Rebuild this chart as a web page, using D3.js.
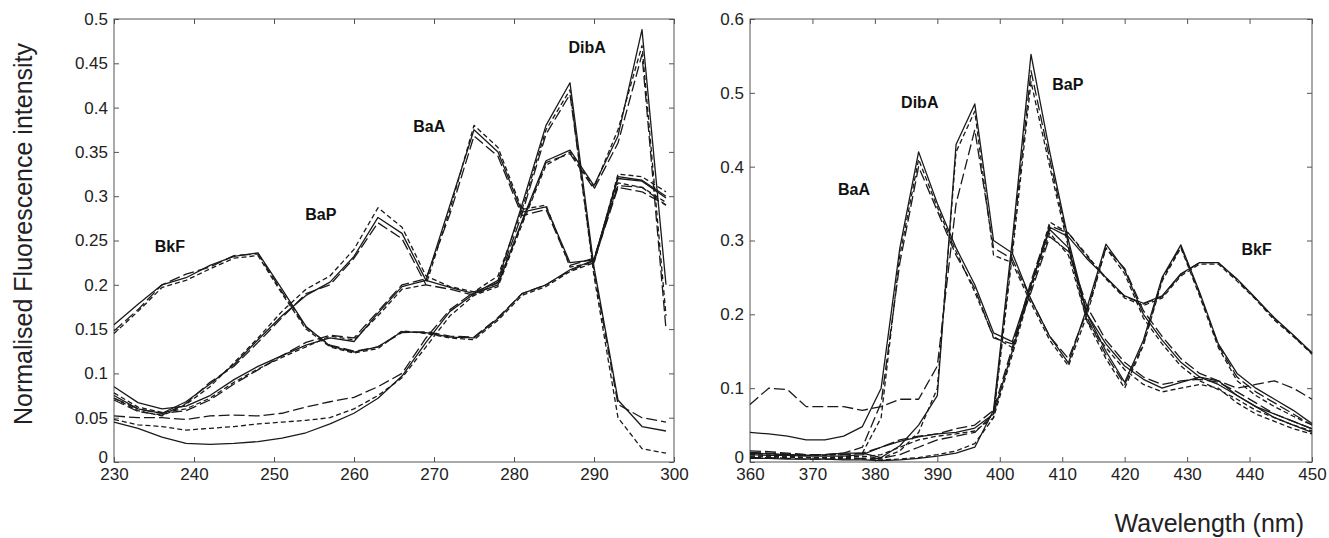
<!DOCTYPE html>
<html>
<head>
<meta charset="UTF-8">
<title>Normalised fluorescence spectra</title>
<style>
  body { margin: 0; background: #fff; }
  svg { display: block; font-family: "Liberation Sans", Arial, Helvetica, sans-serif; }
  .tick text { font-size: 17px; fill: #222; }
  .tick line { stroke: #555; }
  .frame { fill: none; stroke: #555; stroke-width: 1; }
  .spec { fill: none; stroke: #1a1a1a; stroke-width: 1.3; stroke-linejoin: round; }
  .tag { font-size: 16px; font-weight: bold; fill: #111; }
</style>
</head>
<body>
<div id="chart"></div>
<script src="https://cdnjs.cloudflare.com/ajax/libs/d3/7.8.5/d3.min.js"></script>
<script>
// excitation side (left), 3 nm steps
const exWl = [230,233,236,239,242,245,248,251,254,257,260,263,266,269,272,275,278,281,284,287,290,293,296,299];
const exBkF1 = [0.155,0.178,0.2,0.208,0.222,0.232,0.236,0.195,0.153,0.131,0.124,0.13,0.147,0.146,0.141,0.14,0.162,0.19,0.2,0.217,0.228,0.322,0.318,0.3];
const exBkF2 = [0.145,0.17,0.197,0.205,0.218,0.23,0.233,0.19,0.15,0.13,0.123,0.128,0.148,0.145,0.14,0.138,0.16,0.188,0.198,0.215,0.225,0.315,0.31,0.293];
const exBkF3 = [0.148,0.172,0.2,0.212,0.22,0.233,0.235,0.192,0.152,0.132,0.125,0.13,0.146,0.147,0.142,0.141,0.163,0.19,0.2,0.216,0.227,0.31,0.305,0.29];
const exBaP1 = [0.075,0.06,0.055,0.068,0.088,0.11,0.138,0.165,0.188,0.203,0.232,0.276,0.258,0.205,0.197,0.19,0.205,0.29,0.38,0.428,0.22,0.07,0.04,0.035];
const exBaP2 = [0.072,0.058,0.052,0.065,0.085,0.112,0.14,0.17,0.195,0.21,0.24,0.287,0.265,0.21,0.198,0.192,0.21,0.285,0.375,0.42,0.21,0.05,0.015,0.01];
const exBaP3 = [0.07,0.057,0.053,0.066,0.09,0.108,0.135,0.163,0.19,0.2,0.23,0.27,0.252,0.2,0.195,0.188,0.203,0.28,0.37,0.415,0.215,0.065,0.05,0.045];
const exBaA1 = [0.085,0.067,0.06,0.063,0.075,0.093,0.108,0.12,0.132,0.14,0.136,0.168,0.198,0.205,0.29,0.375,0.35,0.282,0.288,0.225,0.228,0.32,0.317,0.298];
const exBaA2 = [0.078,0.062,0.056,0.06,0.072,0.09,0.105,0.118,0.13,0.142,0.138,0.165,0.195,0.2,0.285,0.38,0.355,0.285,0.29,0.22,0.225,0.325,0.322,0.305];
const exBaA3 = [0.072,0.06,0.055,0.058,0.07,0.088,0.104,0.12,0.135,0.143,0.14,0.17,0.2,0.207,0.28,0.368,0.345,0.278,0.285,0.222,0.23,0.312,0.31,0.29];
const exDibA1 = [0.045,0.038,0.028,0.021,0.02,0.021,0.023,0.027,0.033,0.043,0.055,0.072,0.097,0.135,0.17,0.19,0.2,0.272,0.34,0.352,0.312,0.368,0.488,0.2];
const exDibA2 = [0.048,0.042,0.04,0.036,0.038,0.04,0.043,0.045,0.047,0.05,0.06,0.075,0.095,0.13,0.165,0.188,0.198,0.268,0.335,0.35,0.31,0.375,0.47,0.165];
const exDibA3 = [0.052,0.05,0.05,0.048,0.052,0.053,0.052,0.055,0.062,0.068,0.073,0.085,0.1,0.14,0.172,0.192,0.202,0.27,0.338,0.348,0.308,0.36,0.46,0.15];

// emission side (right), 3 nm steps
const emWl = [360,363,366,369,372,375,378,381,384,387,390,393,396,399,402,405,408,411,414,417,420,423,426,429,432,435,438,441,444,447,450];
const emBaA1 = [0.04,0.038,0.035,0.03,0.03,0.035,0.048,0.1,0.29,0.42,0.35,0.29,0.24,0.175,0.163,0.24,0.315,0.29,0.2,0.16,0.13,0.112,0.1,0.108,0.115,0.11,0.09,0.075,0.06,0.05,0.04];
const emBaA2 = [0.012,0.011,0.01,0.009,0.009,0.01,0.012,0.06,0.28,0.41,0.345,0.285,0.23,0.17,0.155,0.235,0.31,0.28,0.19,0.155,0.125,0.105,0.095,0.1,0.105,0.1,0.08,0.065,0.055,0.045,0.038];
const emBaA3 = [0.015,0.014,0.012,0.01,0.01,0.012,0.02,0.08,0.27,0.4,0.34,0.28,0.235,0.168,0.16,0.23,0.305,0.285,0.21,0.165,0.135,0.115,0.105,0.11,0.112,0.108,0.095,0.08,0.065,0.055,0.045];
const emDibA1 = [0.012,0.011,0.01,0.009,0.01,0.012,0.012,0.006,0.022,0.05,0.09,0.43,0.485,0.3,0.283,0.22,0.17,0.134,0.21,0.295,0.26,0.2,0.165,0.135,0.115,0.105,0.09,0.075,0.065,0.055,0.045];
const emDibA2 = [0.008,0.008,0.007,0.006,0.006,0.007,0.008,0.005,0.015,0.04,0.1,0.42,0.475,0.28,0.27,0.215,0.165,0.13,0.2,0.29,0.255,0.195,0.16,0.13,0.11,0.098,0.085,0.07,0.06,0.05,0.042];
const emDibA3 = [0.078,0.1,0.098,0.075,0.075,0.075,0.07,0.075,0.085,0.085,0.13,0.35,0.45,0.29,0.275,0.22,0.17,0.14,0.205,0.29,0.262,0.205,0.17,0.14,0.12,0.11,0.1,0.105,0.11,0.1,0.085];
const emBaP1 = [0.005,0.005,0.004,0.004,0.004,0.003,0.003,0.002,0.003,0.005,0.008,0.012,0.02,0.07,0.3,0.552,0.42,0.3,0.2,0.15,0.108,0.165,0.25,0.294,0.23,0.16,0.12,0.1,0.085,0.07,0.052];
const emBaP2 = [0.01,0.009,0.008,0.006,0.005,0.005,0.004,0.003,0.004,0.006,0.01,0.015,0.025,0.06,0.28,0.515,0.4,0.29,0.19,0.14,0.1,0.158,0.245,0.29,0.225,0.155,0.11,0.09,0.075,0.062,0.05];
const emBaP3 = [0.006,0.006,0.005,0.004,0.004,0.004,0.005,0.005,0.01,0.02,0.03,0.035,0.04,0.065,0.29,0.53,0.41,0.295,0.195,0.145,0.105,0.16,0.248,0.292,0.228,0.158,0.115,0.095,0.08,0.065,0.05];
const emBkF1 = [0.01,0.009,0.009,0.008,0.008,0.008,0.01,0.02,0.028,0.034,0.038,0.04,0.046,0.065,0.15,0.24,0.318,0.305,0.275,0.25,0.225,0.215,0.225,0.255,0.27,0.27,0.248,0.222,0.195,0.172,0.148];
const emBkF2 = [0.007,0.007,0.006,0.006,0.006,0.006,0.007,0.01,0.02,0.03,0.035,0.038,0.042,0.06,0.145,0.235,0.325,0.31,0.28,0.248,0.222,0.212,0.222,0.252,0.268,0.268,0.245,0.22,0.192,0.17,0.146];
const emBkF3 = [0.013,0.012,0.011,0.01,0.01,0.01,0.012,0.02,0.03,0.035,0.038,0.045,0.05,0.07,0.155,0.245,0.32,0.31,0.278,0.25,0.224,0.214,0.224,0.254,0.27,0.27,0.247,0.221,0.194,0.171,0.147];

const exTicksX = [230,240,250,260,270,280,290,300];
const exTicksY = [0,0.05,0.1,0.15,0.2,0.25,0.3,0.35,0.4,0.45,0.5];
const emTicksX = [360,370,380,390,400,410,420,430,440,450];
const emTicksY = [0,0.1,0.2,0.3,0.4,0.5,0.6];

// replicate line styles: solid, short dash, long dash
const dashes = [null, "5,3", "11,4"];

const W = 1329, H = 538;
const svg = d3.select("#chart").append("svg").attr("width", W).attr("height", H);

function panel(opt) {
  const x = d3.scaleLinear().domain(opt.xdom).range([opt.x0, opt.x1]);
  const y = d3.scaleLinear().domain(opt.ydom).range([opt.y1, opt.y0]);
  const g = svg.append("g");
  const fmt = d3.format("~g");

  g.append("g").attr("transform", `translate(0,${opt.y1})`)
    .call(d3.axisBottom(x).tickValues(opt.xt).tickSize(-5).tickPadding(6).tickFormat(fmt))
    .call(a => a.select(".domain").remove());
  g.append("g").attr("transform", `translate(0,${opt.y0})`)
    .call(d3.axisTop(x).tickValues(opt.xt).tickSize(-5).tickFormat(""))
    .call(a => a.select(".domain").remove());
  const yax = g.append("g").attr("transform", `translate(${opt.x0},0)`)
    .call(d3.axisLeft(y).tickValues(opt.yt).tickSize(-5).tickPadding(6).tickFormat(fmt))
    .call(a => a.select(".domain").remove());
  // the zero label sits a little higher so it clears the first x label
  yax.selectAll(".tick").filter(d => d === 0).select("text").attr("dy", "0.05em");
  g.append("g").attr("transform", `translate(${opt.x1},0)`)
    .call(d3.axisRight(y).tickValues(opt.yt).tickSize(-5).tickFormat(""))
    .call(a => a.select(".domain").remove());
  g.selectAll(".tick text").attr("fill", "#222").style("font-size", "17px");

  g.append("rect").attr("class", "frame")
    .attr("x", opt.x0).attr("y", opt.y0)
    .attr("width", opt.x1 - opt.x0).attr("height", opt.y1 - opt.y0);

  const line = d3.line().x(d => x(d[0])).y(d => y(d[1]));
  opt.series.forEach((vals, i) => {
    g.append("path").attr("class", "spec")
      .attr("d", line(opt.wl.map((w, k) => [w, vals[k]])))
      .attr("stroke-dasharray", dashes[i % 3]);
  });

  opt.tags.forEach(t => {
    g.append("text").attr("class", "tag").attr("x", x(t[1])).attr("y", y(t[2])).text(t[0]);
  });
}

panel({
  xdom: [230, 300], ydom: [0, 0.5], x0: 114, x1: 674, y0: 19, y1: 462,
  xt: exTicksX, yt: exTicksY, wl: exWl,
  series: [exBkF1, exBkF2, exBkF3, exBaP1, exBaP2, exBaP3, exBaA1, exBaA2, exBaA3, exDibA1, exDibA2, exDibA3],
  tags: [["BkF", 235.1, 0.237], ["BaP", 253.9, 0.273], ["BaA", 267.4, 0.372], ["DibA", 286.8, 0.462]]
});

panel({
  xdom: [360, 450], ydom: [0, 0.6], x0: 750, x1: 1312, y0: 19, y1: 462,
  xt: emTicksX, yt: emTicksY, wl: emWl,
  series: [emBaA1, emBaA2, emBaA3, emDibA1, emDibA2, emDibA3, emBaP1, emBaP2, emBaP3, emBkF1, emBkF2, emBkF3],
  tags: [["BaA", 374.1, 0.362], ["DibA", 384.2, 0.479], ["BaP", 408.4, 0.504], ["BkF", 438.7, 0.28]]
});

svg.append("text")
  .attr("transform", "translate(32,234) rotate(-90)")
  .attr("text-anchor", "middle")
  .style("font-size", "25px").attr("fill", "#222")
  .text("Normalised Fluorescence intensity");

svg.append("text")
  .attr("x", 1304).attr("y", 532)
  .attr("text-anchor", "end")
  .style("font-size", "25px").attr("fill", "#222")
  .text("Wavelength (nm)");
</script>
</body>
</html>
